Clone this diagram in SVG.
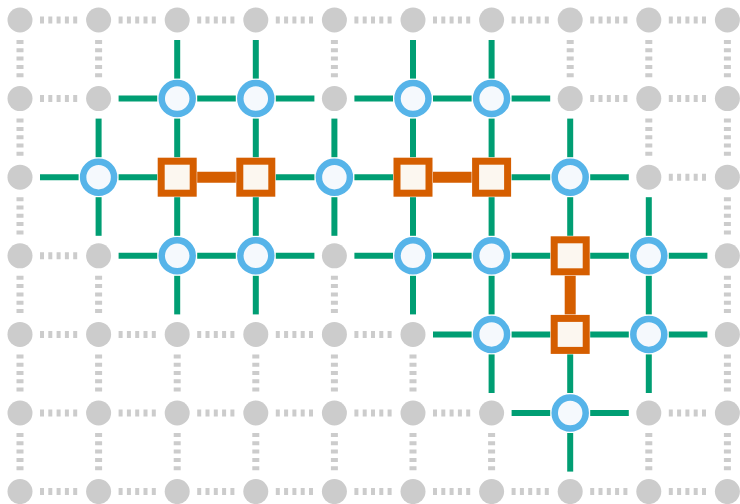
<svg xmlns="http://www.w3.org/2000/svg" width="740" height="504" viewBox="0 0 740 504">
<style>
.d{stroke:#cccccc;stroke-width:7;stroke-dasharray:4 4.3;fill:none}
.g{stroke:#009e73;stroke-width:6;fill:none}
.o{stroke:#d55e00;stroke-width:11;fill:none}
.gn circle{fill:#cccccc}
.bn circle{fill:#f5f9fd;stroke:#56b4e9;stroke-width:6.5}
.on rect{fill:#fcf7f0;stroke:#d55e00;stroke-width:7}
</style>
<rect width="740" height="504" fill="#ffffff"/>
<g id="connectors">
<line class="d" x1="40" y1="20" x2="78.6" y2="20"/>
<line class="d" x1="118.6" y1="20" x2="157.2" y2="20"/>
<line class="d" x1="197.2" y1="20" x2="235.8" y2="20"/>
<line class="d" x1="275.8" y1="20" x2="314.4" y2="20"/>
<line class="d" x1="354.4" y1="20" x2="393" y2="20"/>
<line class="d" x1="433" y1="20" x2="471.6" y2="20"/>
<line class="d" x1="511.6" y1="20" x2="550.2" y2="20"/>
<line class="d" x1="590.2" y1="20" x2="628.8" y2="20"/>
<line class="d" x1="668.8" y1="20" x2="707.4" y2="20"/>
<line class="d" x1="40" y1="98.6" x2="78.6" y2="98.6"/>
<line class="d" x1="590.2" y1="98.6" x2="628.8" y2="98.6"/>
<line class="d" x1="668.8" y1="98.6" x2="707.4" y2="98.6"/>
<line class="d" x1="668.8" y1="177.2" x2="707.4" y2="177.2"/>
<line class="d" x1="40" y1="255.8" x2="78.6" y2="255.8"/>
<line class="d" x1="40" y1="334.4" x2="78.6" y2="334.4"/>
<line class="d" x1="118.6" y1="334.4" x2="157.2" y2="334.4"/>
<line class="d" x1="197.2" y1="334.4" x2="235.8" y2="334.4"/>
<line class="d" x1="275.8" y1="334.4" x2="314.4" y2="334.4"/>
<line class="d" x1="354.4" y1="334.4" x2="393" y2="334.4"/>
<line class="d" x1="40" y1="413" x2="78.6" y2="413"/>
<line class="d" x1="118.6" y1="413" x2="157.2" y2="413"/>
<line class="d" x1="197.2" y1="413" x2="235.8" y2="413"/>
<line class="d" x1="275.8" y1="413" x2="314.4" y2="413"/>
<line class="d" x1="354.4" y1="413" x2="393" y2="413"/>
<line class="d" x1="433" y1="413" x2="471.6" y2="413"/>
<line class="d" x1="668.8" y1="413" x2="707.4" y2="413"/>
<line class="d" x1="40" y1="491.6" x2="78.6" y2="491.6"/>
<line class="d" x1="118.6" y1="491.6" x2="157.2" y2="491.6"/>
<line class="d" x1="197.2" y1="491.6" x2="235.8" y2="491.6"/>
<line class="d" x1="275.8" y1="491.6" x2="314.4" y2="491.6"/>
<line class="d" x1="354.4" y1="491.6" x2="393" y2="491.6"/>
<line class="d" x1="433" y1="491.6" x2="471.6" y2="491.6"/>
<line class="d" x1="511.6" y1="491.6" x2="550.2" y2="491.6"/>
<line class="d" x1="590.2" y1="491.6" x2="628.8" y2="491.6"/>
<line class="d" x1="668.8" y1="491.6" x2="707.4" y2="491.6"/>
<line class="d" x1="20" y1="40" x2="20" y2="78.6"/>
<line class="d" x1="20" y1="118.6" x2="20" y2="157.2"/>
<line class="d" x1="20" y1="197.2" x2="20" y2="235.8"/>
<line class="d" x1="20" y1="275.8" x2="20" y2="314.4"/>
<line class="d" x1="20" y1="354.4" x2="20" y2="393"/>
<line class="d" x1="20" y1="433" x2="20" y2="471.6"/>
<line class="d" x1="98.6" y1="40" x2="98.6" y2="78.6"/>
<line class="d" x1="98.6" y1="275.8" x2="98.6" y2="314.4"/>
<line class="d" x1="98.6" y1="354.4" x2="98.6" y2="393"/>
<line class="d" x1="98.6" y1="433" x2="98.6" y2="471.6"/>
<line class="d" x1="177.2" y1="354.4" x2="177.2" y2="393"/>
<line class="d" x1="177.2" y1="433" x2="177.2" y2="471.6"/>
<line class="d" x1="255.8" y1="354.4" x2="255.8" y2="393"/>
<line class="d" x1="255.8" y1="433" x2="255.8" y2="471.6"/>
<line class="d" x1="334.4" y1="40" x2="334.4" y2="78.6"/>
<line class="d" x1="334.4" y1="275.8" x2="334.4" y2="314.4"/>
<line class="d" x1="334.4" y1="354.4" x2="334.4" y2="393"/>
<line class="d" x1="334.4" y1="433" x2="334.4" y2="471.6"/>
<line class="d" x1="413" y1="354.4" x2="413" y2="393"/>
<line class="d" x1="413" y1="433" x2="413" y2="471.6"/>
<line class="d" x1="491.6" y1="433" x2="491.6" y2="471.6"/>
<line class="d" x1="570.2" y1="40" x2="570.2" y2="78.6"/>
<line class="d" x1="648.8" y1="40" x2="648.8" y2="78.6"/>
<line class="d" x1="648.8" y1="118.6" x2="648.8" y2="157.2"/>
<line class="d" x1="648.8" y1="433" x2="648.8" y2="471.6"/>
<line class="d" x1="727.4" y1="40" x2="727.4" y2="78.6"/>
<line class="d" x1="727.4" y1="118.6" x2="727.4" y2="157.2"/>
<line class="d" x1="727.4" y1="197.2" x2="727.4" y2="235.8"/>
<line class="d" x1="727.4" y1="275.8" x2="727.4" y2="314.4"/>
<line class="d" x1="727.4" y1="354.4" x2="727.4" y2="393"/>
<line class="d" x1="727.4" y1="433" x2="727.4" y2="471.6"/>
<line class="g" x1="118.6" y1="98.6" x2="157.2" y2="98.6"/>
<line class="g" x1="197.2" y1="98.6" x2="235.8" y2="98.6"/>
<line class="g" x1="275.8" y1="98.6" x2="314.4" y2="98.6"/>
<line class="g" x1="354.4" y1="98.6" x2="393" y2="98.6"/>
<line class="g" x1="433" y1="98.6" x2="471.6" y2="98.6"/>
<line class="g" x1="511.6" y1="98.6" x2="550.2" y2="98.6"/>
<line class="g" x1="40" y1="177.2" x2="78.6" y2="177.2"/>
<line class="g" x1="118.6" y1="177.2" x2="157.2" y2="177.2"/>
<line class="g" x1="275.8" y1="177.2" x2="314.4" y2="177.2"/>
<line class="g" x1="354.4" y1="177.2" x2="393" y2="177.2"/>
<line class="g" x1="511.6" y1="177.2" x2="550.2" y2="177.2"/>
<line class="g" x1="590.2" y1="177.2" x2="628.8" y2="177.2"/>
<line class="g" x1="118.6" y1="255.8" x2="157.2" y2="255.8"/>
<line class="g" x1="197.2" y1="255.8" x2="235.8" y2="255.8"/>
<line class="g" x1="275.8" y1="255.8" x2="314.4" y2="255.8"/>
<line class="g" x1="354.4" y1="255.8" x2="393" y2="255.8"/>
<line class="g" x1="433" y1="255.8" x2="471.6" y2="255.8"/>
<line class="g" x1="511.6" y1="255.8" x2="550.2" y2="255.8"/>
<line class="g" x1="590.2" y1="255.8" x2="628.8" y2="255.8"/>
<line class="g" x1="668.8" y1="255.8" x2="707.4" y2="255.8"/>
<line class="g" x1="433" y1="334.4" x2="471.6" y2="334.4"/>
<line class="g" x1="511.6" y1="334.4" x2="550.2" y2="334.4"/>
<line class="g" x1="590.2" y1="334.4" x2="628.8" y2="334.4"/>
<line class="g" x1="668.8" y1="334.4" x2="707.4" y2="334.4"/>
<line class="g" x1="511.6" y1="413" x2="550.2" y2="413"/>
<line class="g" x1="590.2" y1="413" x2="628.8" y2="413"/>
<line class="g" x1="98.6" y1="118.6" x2="98.6" y2="157.2"/>
<line class="g" x1="98.6" y1="197.2" x2="98.6" y2="235.8"/>
<line class="g" x1="177.2" y1="40" x2="177.2" y2="78.6"/>
<line class="g" x1="177.2" y1="118.6" x2="177.2" y2="157.2"/>
<line class="g" x1="177.2" y1="197.2" x2="177.2" y2="235.8"/>
<line class="g" x1="177.2" y1="275.8" x2="177.2" y2="314.4"/>
<line class="g" x1="255.8" y1="40" x2="255.8" y2="78.6"/>
<line class="g" x1="255.8" y1="118.6" x2="255.8" y2="157.2"/>
<line class="g" x1="255.8" y1="197.2" x2="255.8" y2="235.8"/>
<line class="g" x1="255.8" y1="275.8" x2="255.8" y2="314.4"/>
<line class="g" x1="334.4" y1="118.6" x2="334.4" y2="157.2"/>
<line class="g" x1="334.4" y1="197.2" x2="334.4" y2="235.8"/>
<line class="g" x1="413" y1="40" x2="413" y2="78.6"/>
<line class="g" x1="413" y1="118.6" x2="413" y2="157.2"/>
<line class="g" x1="413" y1="197.2" x2="413" y2="235.8"/>
<line class="g" x1="413" y1="275.8" x2="413" y2="314.4"/>
<line class="g" x1="491.6" y1="40" x2="491.6" y2="78.6"/>
<line class="g" x1="491.6" y1="118.6" x2="491.6" y2="157.2"/>
<line class="g" x1="491.6" y1="197.2" x2="491.6" y2="235.8"/>
<line class="g" x1="491.6" y1="275.8" x2="491.6" y2="314.4"/>
<line class="g" x1="491.6" y1="354.4" x2="491.6" y2="393"/>
<line class="g" x1="570.2" y1="118.6" x2="570.2" y2="157.2"/>
<line class="g" x1="570.2" y1="197.2" x2="570.2" y2="235.8"/>
<line class="g" x1="570.2" y1="354.4" x2="570.2" y2="393"/>
<line class="g" x1="570.2" y1="433" x2="570.2" y2="471.6"/>
<line class="g" x1="648.8" y1="197.2" x2="648.8" y2="235.8"/>
<line class="g" x1="648.8" y1="275.8" x2="648.8" y2="314.4"/>
<line class="g" x1="648.8" y1="354.4" x2="648.8" y2="393"/>
<line class="o" x1="197.2" y1="177.2" x2="235.8" y2="177.2"/>
<line class="o" x1="433" y1="177.2" x2="471.6" y2="177.2"/>
<line class="o" x1="570.2" y1="275.8" x2="570.2" y2="314.4"/>
</g>
<g id="gray-nodes" class="gn">
<g id="n0_0"><circle cx="20" cy="20" r="12.5"/></g>
<g id="n1_0"><circle cx="98.6" cy="20" r="12.5"/></g>
<g id="n2_0"><circle cx="177.2" cy="20" r="12.5"/></g>
<g id="n3_0"><circle cx="255.8" cy="20" r="12.5"/></g>
<g id="n4_0"><circle cx="334.4" cy="20" r="12.5"/></g>
<g id="n5_0"><circle cx="413" cy="20" r="12.5"/></g>
<g id="n6_0"><circle cx="491.6" cy="20" r="12.5"/></g>
<g id="n7_0"><circle cx="570.2" cy="20" r="12.5"/></g>
<g id="n8_0"><circle cx="648.8" cy="20" r="12.5"/></g>
<g id="n9_0"><circle cx="727.4" cy="20" r="12.5"/></g>
<g id="n0_1"><circle cx="20" cy="98.6" r="12.5"/></g>
<g id="n1_1"><circle cx="98.6" cy="98.6" r="12.5"/></g>
<g id="n4_1"><circle cx="334.4" cy="98.6" r="12.5"/></g>
<g id="n7_1"><circle cx="570.2" cy="98.6" r="12.5"/></g>
<g id="n8_1"><circle cx="648.8" cy="98.6" r="12.5"/></g>
<g id="n9_1"><circle cx="727.4" cy="98.6" r="12.5"/></g>
<g id="n0_2"><circle cx="20" cy="177.2" r="12.5"/></g>
<g id="n8_2"><circle cx="648.8" cy="177.2" r="12.5"/></g>
<g id="n9_2"><circle cx="727.4" cy="177.2" r="12.5"/></g>
<g id="n0_3"><circle cx="20" cy="255.8" r="12.5"/></g>
<g id="n1_3"><circle cx="98.6" cy="255.8" r="12.5"/></g>
<g id="n4_3"><circle cx="334.4" cy="255.8" r="12.5"/></g>
<g id="n9_3"><circle cx="727.4" cy="255.8" r="12.5"/></g>
<g id="n0_4"><circle cx="20" cy="334.4" r="12.5"/></g>
<g id="n1_4"><circle cx="98.6" cy="334.4" r="12.5"/></g>
<g id="n2_4"><circle cx="177.2" cy="334.4" r="12.5"/></g>
<g id="n3_4"><circle cx="255.8" cy="334.4" r="12.5"/></g>
<g id="n4_4"><circle cx="334.4" cy="334.4" r="12.5"/></g>
<g id="n5_4"><circle cx="413" cy="334.4" r="12.5"/></g>
<g id="n9_4"><circle cx="727.4" cy="334.4" r="12.5"/></g>
<g id="n0_5"><circle cx="20" cy="413" r="12.5"/></g>
<g id="n1_5"><circle cx="98.6" cy="413" r="12.5"/></g>
<g id="n2_5"><circle cx="177.2" cy="413" r="12.5"/></g>
<g id="n3_5"><circle cx="255.8" cy="413" r="12.5"/></g>
<g id="n4_5"><circle cx="334.4" cy="413" r="12.5"/></g>
<g id="n5_5"><circle cx="413" cy="413" r="12.5"/></g>
<g id="n6_5"><circle cx="491.6" cy="413" r="12.5"/></g>
<g id="n8_5"><circle cx="648.8" cy="413" r="12.5"/></g>
<g id="n9_5"><circle cx="727.4" cy="413" r="12.5"/></g>
<g id="n0_6"><circle cx="20" cy="491.6" r="12.5"/></g>
<g id="n1_6"><circle cx="98.6" cy="491.6" r="12.5"/></g>
<g id="n2_6"><circle cx="177.2" cy="491.6" r="12.5"/></g>
<g id="n3_6"><circle cx="255.8" cy="491.6" r="12.5"/></g>
<g id="n4_6"><circle cx="334.4" cy="491.6" r="12.5"/></g>
<g id="n5_6"><circle cx="413" cy="491.6" r="12.5"/></g>
<g id="n6_6"><circle cx="491.6" cy="491.6" r="12.5"/></g>
<g id="n7_6"><circle cx="570.2" cy="491.6" r="12.5"/></g>
<g id="n8_6"><circle cx="648.8" cy="491.6" r="12.5"/></g>
<g id="n9_6"><circle cx="727.4" cy="491.6" r="12.5"/></g>
</g>
<g id="blue-nodes" class="bn">
<g id="n2_1"><circle cx="177.2" cy="98.6" r="15.5"/></g>
<g id="n3_1"><circle cx="255.8" cy="98.6" r="15.5"/></g>
<g id="n5_1"><circle cx="413" cy="98.6" r="15.5"/></g>
<g id="n6_1"><circle cx="491.6" cy="98.6" r="15.5"/></g>
<g id="n1_2"><circle cx="98.6" cy="177.2" r="15.5"/></g>
<g id="n4_2"><circle cx="334.4" cy="177.2" r="15.5"/></g>
<g id="n7_2"><circle cx="570.2" cy="177.2" r="15.5"/></g>
<g id="n2_3"><circle cx="177.2" cy="255.8" r="15.5"/></g>
<g id="n3_3"><circle cx="255.8" cy="255.8" r="15.5"/></g>
<g id="n5_3"><circle cx="413" cy="255.8" r="15.5"/></g>
<g id="n6_3"><circle cx="491.6" cy="255.8" r="15.5"/></g>
<g id="n8_3"><circle cx="648.8" cy="255.8" r="15.5"/></g>
<g id="n6_4"><circle cx="491.6" cy="334.4" r="15.5"/></g>
<g id="n8_4"><circle cx="648.8" cy="334.4" r="15.5"/></g>
<g id="n7_5"><circle cx="570.2" cy="413" r="15.5"/></g>
</g>
<g id="orange-nodes" class="on">
<g id="n2_2"><rect x="161.2" y="161.2" width="32" height="32"/></g>
<g id="n3_2"><rect x="239.8" y="161.2" width="32" height="32"/></g>
<g id="n5_2"><rect x="397" y="161.2" width="32" height="32"/></g>
<g id="n6_2"><rect x="475.6" y="161.2" width="32" height="32"/></g>
<g id="n7_3"><rect x="554.2" y="239.8" width="32" height="32"/></g>
<g id="n7_4"><rect x="554.2" y="318.4" width="32" height="32"/></g>
</g>
</svg>
